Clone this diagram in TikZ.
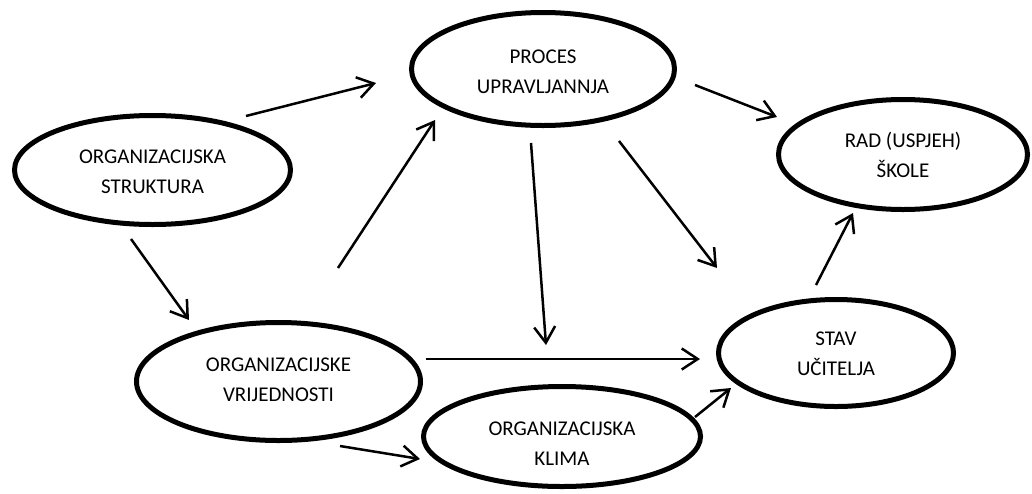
\documentclass[tikz,border=0pt]{standalone}
\usepackage{fontspec}
\setmainfont{Carlito}
\usetikzlibrary{arrows.meta,shapes.geometric}
\tikzset{
  oval/.style={ellipse, draw=black, line width=5pt, inner sep=0pt, align=center,
    font=\fontsize{21}{30}\selectfont, text depth=0pt},
  flow/.style={line width=2.5pt, -{Straight Barb[length=16pt,width=21pt,line width=2.5pt]}}
}
\begin{document}
\begin{tikzpicture}[x=1pt,y=-1pt]
\useasboundingbox (0,0) rectangle (1032,493);
\node[oval, minimum width=276pt, minimum height=109pt, text height=47pt] (strukt) at (152.5,170) {ORGANIZACIJSKA\\STRUKTURA};
\node[oval, minimum width=263pt, minimum height=113pt, text height=48pt] (proces) at (543,69) {PROCES\\UPRAVLJANNJA};
\node[oval, minimum width=249pt, minimum height=110pt, text height=45pt] (rad) at (903,154.5) {RAD (USPJEH)\\ŠKOLE};
\node[oval, minimum width=284pt, minimum height=118pt, text height=39pt] (vrij) at (278.5,381.5) {ORGANIZACIJSKE\\VRIJEDNOSTI};
\node[oval, minimum width=277pt, minimum height=100pt, text height=57pt] (klima) at (562,436.5) {ORGANIZACIJSKA\\KLIMA};
\node[oval, minimum width=235pt, minimum height=107pt, text height=45pt] (stav) at (836,353) {STAV\\UČITELJA};
% free connector ends
\coordinate (s1) at (246,116);  \coordinate (t1) at (376,83);
\coordinate (s2) at (131,239);  \coordinate (t2) at (189,320);
\coordinate (s3) at (338,268);  \coordinate (t3) at (435,120);
\coordinate (s4) at (695,85);   \coordinate (t4) at (777,117);
\coordinate (s5) at (531,143);  \coordinate (t5) at (546,345);
\coordinate (s6) at (619,141);  \coordinate (t6) at (717,268);
\coordinate (s7) at (426,359);  \coordinate (t7) at (700,359);
\coordinate (s8) at (340,446);  \coordinate (t8) at (420,459);
\coordinate (s9) at (695,417);  \coordinate (t9) at (731,388);
\coordinate (s10) at (816,285); \coordinate (t10) at (853,213);
\draw[flow] (s1) -- (t1);
\draw[flow] (s2) -- (t2);
\draw[flow] (s3) -- (t3);
\draw[flow] (s4) -- (t4);
\draw[flow] (s5) -- (t5);
\draw[flow] (s6) -- (t6);
\draw[flow] (s7) -- (t7);
\draw[flow] (s8) -- (t8);
\draw[flow] (s9) -- (t9);
\draw[flow] (s10) -- (t10);
\end{tikzpicture}
\end{document}
